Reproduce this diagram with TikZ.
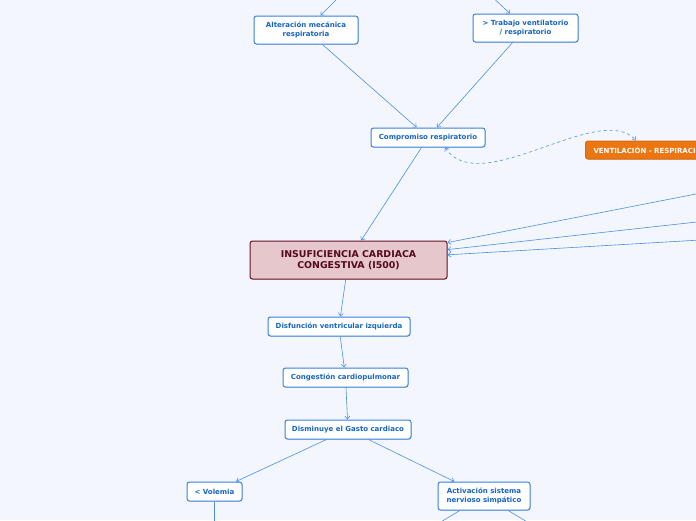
\documentclass[tikz,border=0pt]{standalone}
\usepackage{fontspec}
\setmainfont{DejaVu Sans}
\usetikzlibrary{calc,shadows,arrows.meta}
\definecolor{bgmap}{RGB}{243,246,253}
\definecolor{linkblue}{RGB}{74,144,226}
\definecolor{boxline}{RGB}{58,128,220}
\definecolor{boxtext}{RGB}{21,101,192}
\definecolor{iccfill}{RGB}{230,200,204}
\definecolor{iccline}{RGB}{105,18,35}
\definecolor{icctext}{RGB}{85,10,28}
\definecolor{ventorange}{RGB}{236,118,18}
\begin{document}
\begin{tikzpicture}[x=1pt,y=-1pt,>={Straight Barb[length=3pt,width=5pt]}]
	\tikzstyle{block} = [rectangle,draw=boxline,fill=white,rounded corners=2.5pt,line width=1pt,inner sep=2pt,align=center,text=boxtext,font=\fontsize{7}{9}\selectfont\bfseries,drop shadow={shadow xshift=0.6pt,shadow yshift=-0.8pt,opacity=0.2}]
	\tikzstyle{link} = [draw=linkblue,line width=0.6pt]
	\useasboundingbox (0,0) rectangle (696,520);
	\fill[bgmap] (0,0) rectangle (696,520);
	\clip (0,0) rectangle (696,520);
	\node[block,minimum width=104pt,minimum height=28pt](alteracion)at(306,30){Alteración mecánica\\respiratoria};
	\node[block,minimum width=105pt,minimum height=28pt](trabajo)at(525.5,28){> Trabajo ventilatorio\\/ respiratorio};
	\node[block,minimum width=114pt,minimum height=19pt](compromiso)at(428,137.5){Compromiso respiratorio};
	\node[block,anchor=west,fill=ventorange,draw=ventorange!90!black,text=white,minimum height=18pt,inner xsep=8pt](ventilacion)at(585,150){VENTILACIÓN - RESPIRACIÓN};
	\node[block,fill=iccfill,draw=iccline,text=icctext,minimum width=197pt,minimum height=38pt,font=\fontsize{9.4}{11}\selectfont\bfseries](icc)at(348.5,260){INSUFICIENCIA CARDIACA\\CONGESTIVA (I500)};
	\node[block,minimum width=142pt,minimum height=19pt](disfuncion)at(339,326.5){Disfunción ventricular izquierda};
	\node[block,minimum width=125pt,minimum height=19pt](congestion)at(345.5,377.5){Congestión cardiopulmonar};
	\node[block,minimum width=126pt,minimum height=19pt](gasto)at(348,429.5){Disminuye el Gasto cardiaco};
	\node[block,minimum width=55pt,minimum height=19pt](volemia)at(214.5,491.5){< Volemia};
	\node[block,minimum width=92pt,minimum height=28pt](simpatico)at(484,496){Activación sistema\\nervioso simpático};
	\coordinate(up-a)at(356,-20);
	\coordinate(up-t)at(474,-20);
	\coordinate(right-1)at(760,181.5);
	\coordinate(right-2)at(760,215);
	\coordinate(right-3)at(760,236.5);
	\coordinate(down-v)at(214.5,560);
	\coordinate(down-s1)at(384,556);
	\coordinate(down-s2)at(584,556);
	\path[link,->] (up-a) edge (alteracion)
	(up-t) edge (trabajo)
	(alteracion) edge (compromiso)
	(trabajo) edge (compromiso)
	(compromiso) edge (icc);
	\path[link,->] (right-1) edge (icc.10)
	(right-2) edge (icc.6)
	(right-3) edge (icc.3);
	\path[link,->] (icc) edge (disfuncion)
	(disfuncion) edge (congestion)
	(congestion) edge (gasto)
	(gasto) edge (volemia)
	(gasto) edge (simpatico);
	\path[link,->] (volemia) edge (down-v)
	(simpatico) edge (down-s1)
	(simpatico) edge (down-s2);
	\draw[link,dashed,<->] ($(compromiso.south)+(17,0)$) .. controls (480,200) and (600,100) .. ($(ventilacion.north west)+(51,0)$);
\end{tikzpicture}
\end{document}
